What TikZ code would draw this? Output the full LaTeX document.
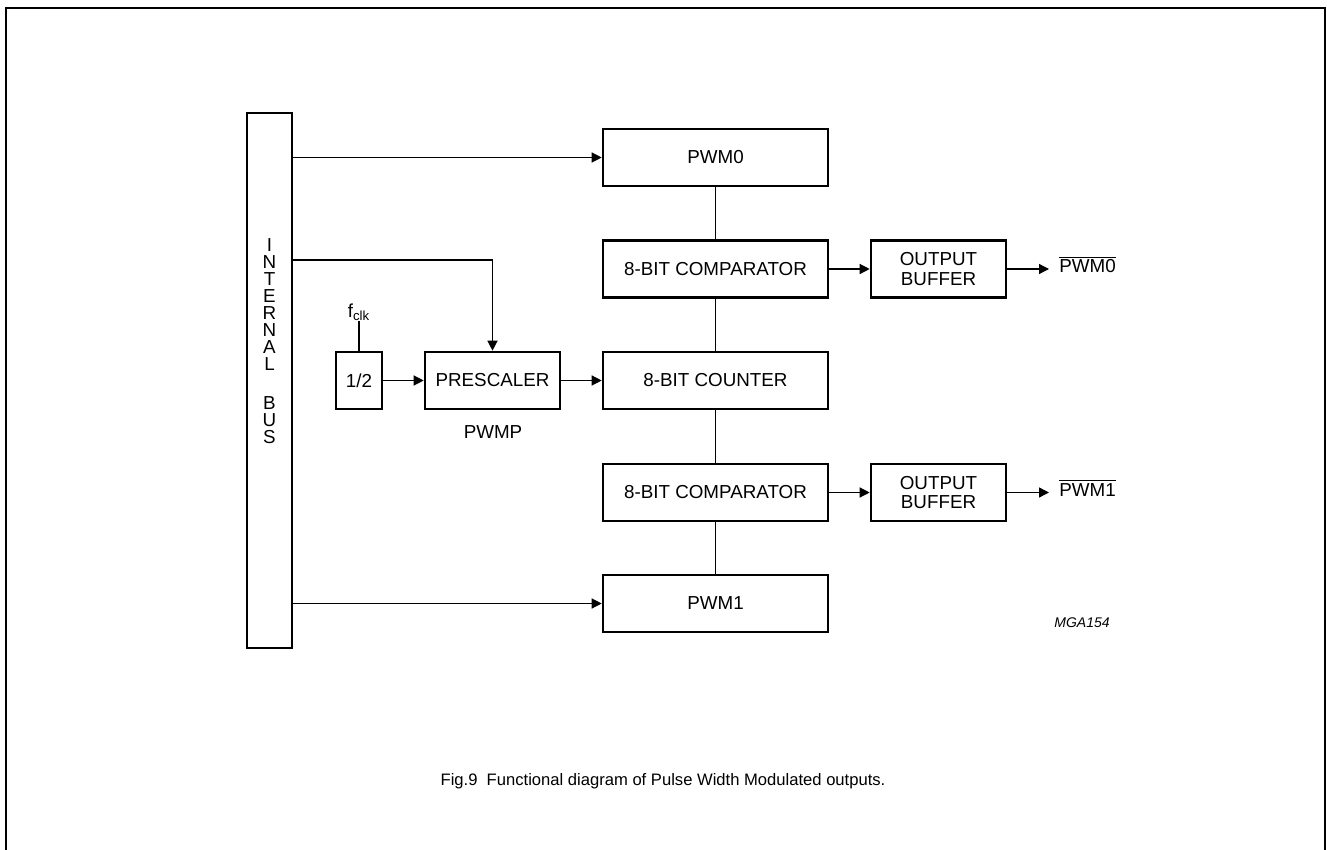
\documentclass[tikz,border=0pt]{standalone}
\usepackage{fontspec}
\setmainfont{Liberation Sans}
\usetikzlibrary{arrows.meta}
\tikzset{
  blk/.style={draw, line width=1.3pt, minimum height=28.5pt, inner sep=0pt, align=center},
  conn/.style={line width=0.65pt},
  arr/.style={conn, -{Triangle[length=5pt,width=5pt]}}
}
\begin{document}
\begin{tikzpicture}[x=0.5pt,y=-0.5pt,font=\fontsize{9.4}{9.6}\selectfont]
  \useasboundingbox (0,0) rectangle (1327,850);
  % Draw the frame (open at the bottom)
  \draw[line width=1pt] (6,852) -- (6,8) -- (1325,8) -- (1325,852);
  % Draw the internal bus
  \node[blk, minimum width=22.5pt, minimum height=267.5pt] (bus) at (269.5,380.5) {};
  \foreach \c/\y in {I/245,N/262,T/279,E/296,R/313,N/330,A/347,L/364,B/403,U/420,S/437}{
    \node (bus\y) at (269.5,\y) {\c};
  }
  % Draw the blocks
  \node[blk, minimum width=112.5pt] (pwm0) at (715.5,157.5) {PWM0};
  \node[blk, minimum width=112.5pt] (cmp0) at (715.5,269) {8-BIT COMPARATOR};
  \node[blk, minimum width=112.5pt] (cnt) at (715.5,380.5) {8-BIT COUNTER};
  \node[blk, minimum width=112.5pt] (cmp1) at (715.5,492.5) {8-BIT COMPARATOR};
  \node[blk, minimum width=112.5pt] (pwm1) at (715.5,603.5) {PWM1};
  \node[blk, minimum width=67.5pt] (buf0) at (938.5,269) {OUTPUT\\BUFFER};
  \node[blk, minimum width=67.5pt] (buf1) at (938.5,492.5) {OUTPUT\\BUFFER};
  \node[blk, minimum width=67.5pt] (pre) at (492.5,380.5) {PRESCALER};
  \node[blk, minimum width=23pt] (half) at (359,380.5) {1/2};
  % Labels
  \node[anchor=south, inner sep=0pt] (fclk) at (359,321) {f\textsubscript{clk}};
  \node (pwmp) at (493,432) {PWMP};
  \node[anchor=west, inner xsep=5pt] (out0) at (1049,264.5) {$\overline{\mbox{PWM0}}$};
  \node[anchor=west, inner xsep=5pt] (out1) at (1049,488) {$\overline{\mbox{PWM1}}$};
  \node[font=\fontsize{7}{8}\selectfont\itshape] (code) at (1082,623) {MGA154};
  \node[font=\fontsize{8.3}{10}\selectfont] (cap) at (663,781) {Fig.9\ \ Functional diagram of Pulse Width Modulated outputs.};
  % Connections
  \coordinate (tap) at (bus.east |- 0,260);
  \draw[arr] (bus.east |- pwm0.west) -- (pwm0.west);
  \draw[arr] (tap) -| (pre.north);
  \draw[arr] (bus.east |- pwm1.west) -- (pwm1.west);
  \draw[conn] (fclk.south) -- (half.north);
  \draw[arr] (half) -- (pre);
  \draw[arr] (pre) -- (cnt);
  \draw[conn] (pwm0) -- (cmp0) (cmp0) -- (cnt) (cnt) -- (cmp1) (cmp1) -- (pwm1);
  \draw[arr] (cmp0) -- (buf0);
  \draw[arr] (cmp1) -- (buf1);
  \draw[arr] (buf0) -- (buf0 -| out0.west);
  \draw[arr] (buf1) -- (buf1 -| out1.west);
\end{tikzpicture}
\end{document}
